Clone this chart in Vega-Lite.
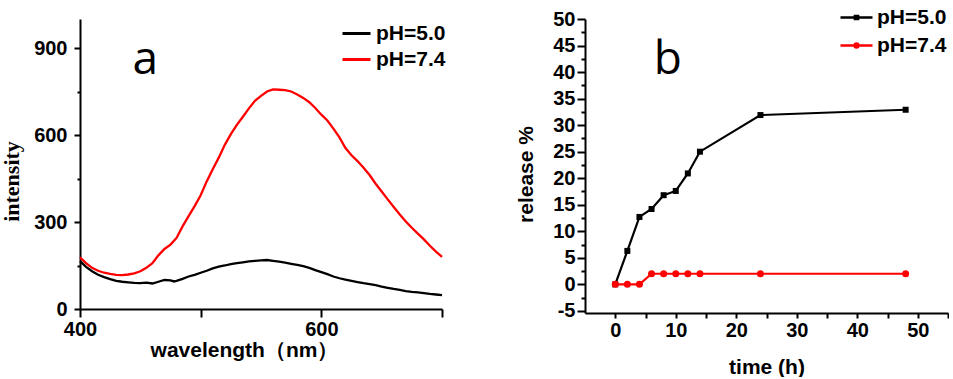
{
  "$schema": "https://vega.github.io/schema/vega-lite/v6.json",
  "background": "white",
  "padding": {"left": 0, "top": 0, "right": 0, "bottom": 0},
  "bounds": "flush",
  "spacing": 143,
  "resolve": {
    "scale": {"color": "independent"},
    "legend": {"color": "independent"}
  },
  "config": {
    "view": {"stroke": null},
    "axis": {
      "grid": false,
      "domainColor": "black",
      "domainWidth": 2,
      "tickColor": "black",
      "tickWidth": 2,
      "labelOverlap": false,
      "labelFont": "Liberation Sans",
      "labelFontWeight": "bold",
      "labelFontSize": 20,
      "labelColor": "black",
      "titleFont": "Liberation Sans",
      "titleFontWeight": "bold",
      "titleFontSize": 21,
      "titleColor": "black"
    }
  },
  "datasets": {
    "spectra": [
      {"wavelength": 400, "intensity": 178, "series": "pH=7.4"},
      {"wavelength": 405, "intensity": 158, "series": "pH=7.4"},
      {"wavelength": 410, "intensity": 142, "series": "pH=7.4"},
      {"wavelength": 415, "intensity": 132, "series": "pH=7.4"},
      {"wavelength": 420, "intensity": 125, "series": "pH=7.4"},
      {"wavelength": 425, "intensity": 121, "series": "pH=7.4"},
      {"wavelength": 430, "intensity": 118, "series": "pH=7.4"},
      {"wavelength": 435, "intensity": 117, "series": "pH=7.4"},
      {"wavelength": 440, "intensity": 119, "series": "pH=7.4"},
      {"wavelength": 445, "intensity": 123, "series": "pH=7.4"},
      {"wavelength": 450, "intensity": 130, "series": "pH=7.4"},
      {"wavelength": 455, "intensity": 142, "series": "pH=7.4"},
      {"wavelength": 460, "intensity": 158, "series": "pH=7.4"},
      {"wavelength": 465, "intensity": 185, "series": "pH=7.4"},
      {"wavelength": 470, "intensity": 207, "series": "pH=7.4"},
      {"wavelength": 475, "intensity": 222, "series": "pH=7.4"},
      {"wavelength": 480, "intensity": 245, "series": "pH=7.4"},
      {"wavelength": 485, "intensity": 285, "series": "pH=7.4"},
      {"wavelength": 490, "intensity": 320, "series": "pH=7.4"},
      {"wavelength": 495, "intensity": 355, "series": "pH=7.4"},
      {"wavelength": 500, "intensity": 392, "series": "pH=7.4"},
      {"wavelength": 505, "intensity": 440, "series": "pH=7.4"},
      {"wavelength": 510, "intensity": 482, "series": "pH=7.4"},
      {"wavelength": 515, "intensity": 522, "series": "pH=7.4"},
      {"wavelength": 520, "intensity": 566, "series": "pH=7.4"},
      {"wavelength": 525, "intensity": 603, "series": "pH=7.4"},
      {"wavelength": 530, "intensity": 635, "series": "pH=7.4"},
      {"wavelength": 535, "intensity": 663, "series": "pH=7.4"},
      {"wavelength": 540, "intensity": 692, "series": "pH=7.4"},
      {"wavelength": 545, "intensity": 718, "series": "pH=7.4"},
      {"wavelength": 550, "intensity": 735, "series": "pH=7.4"},
      {"wavelength": 555, "intensity": 750, "series": "pH=7.4"},
      {"wavelength": 560, "intensity": 757, "series": "pH=7.4"},
      {"wavelength": 565, "intensity": 756, "series": "pH=7.4"},
      {"wavelength": 570, "intensity": 755, "series": "pH=7.4"},
      {"wavelength": 575, "intensity": 750, "series": "pH=7.4"},
      {"wavelength": 580, "intensity": 740, "series": "pH=7.4"},
      {"wavelength": 585, "intensity": 728, "series": "pH=7.4"},
      {"wavelength": 590, "intensity": 713, "series": "pH=7.4"},
      {"wavelength": 595, "intensity": 693, "series": "pH=7.4"},
      {"wavelength": 600, "intensity": 670, "series": "pH=7.4"},
      {"wavelength": 605, "intensity": 650, "series": "pH=7.4"},
      {"wavelength": 610, "intensity": 622, "series": "pH=7.4"},
      {"wavelength": 615, "intensity": 592, "series": "pH=7.4"},
      {"wavelength": 620, "intensity": 555, "series": "pH=7.4"},
      {"wavelength": 625, "intensity": 530, "series": "pH=7.4"},
      {"wavelength": 630, "intensity": 510, "series": "pH=7.4"},
      {"wavelength": 635, "intensity": 487, "series": "pH=7.4"},
      {"wavelength": 640, "intensity": 462, "series": "pH=7.4"},
      {"wavelength": 645, "intensity": 432, "series": "pH=7.4"},
      {"wavelength": 650, "intensity": 405, "series": "pH=7.4"},
      {"wavelength": 655, "intensity": 378, "series": "pH=7.4"},
      {"wavelength": 660, "intensity": 352, "series": "pH=7.4"},
      {"wavelength": 665, "intensity": 326, "series": "pH=7.4"},
      {"wavelength": 670, "intensity": 302, "series": "pH=7.4"},
      {"wavelength": 675, "intensity": 280, "series": "pH=7.4"},
      {"wavelength": 680, "intensity": 260, "series": "pH=7.4"},
      {"wavelength": 685, "intensity": 240, "series": "pH=7.4"},
      {"wavelength": 690, "intensity": 218, "series": "pH=7.4"},
      {"wavelength": 695, "intensity": 198, "series": "pH=7.4"},
      {"wavelength": 700, "intensity": 180, "series": "pH=7.4"},
      {"wavelength": 400, "intensity": 165, "series": "pH=5.0"},
      {"wavelength": 405, "intensity": 145, "series": "pH=5.0"},
      {"wavelength": 410, "intensity": 130, "series": "pH=5.0"},
      {"wavelength": 415, "intensity": 118, "series": "pH=5.0"},
      {"wavelength": 420, "intensity": 110, "series": "pH=5.0"},
      {"wavelength": 425, "intensity": 103, "series": "pH=5.0"},
      {"wavelength": 430, "intensity": 97, "series": "pH=5.0"},
      {"wavelength": 435, "intensity": 94, "series": "pH=5.0"},
      {"wavelength": 440, "intensity": 92, "series": "pH=5.0"},
      {"wavelength": 445, "intensity": 90, "series": "pH=5.0"},
      {"wavelength": 450, "intensity": 89, "series": "pH=5.0"},
      {"wavelength": 455, "intensity": 91, "series": "pH=5.0"},
      {"wavelength": 460, "intensity": 88, "series": "pH=5.0"},
      {"wavelength": 465, "intensity": 94, "series": "pH=5.0"},
      {"wavelength": 470, "intensity": 100, "series": "pH=5.0"},
      {"wavelength": 475, "intensity": 99, "series": "pH=5.0"},
      {"wavelength": 478, "intensity": 95, "series": "pH=5.0"},
      {"wavelength": 480, "intensity": 97, "series": "pH=5.0"},
      {"wavelength": 485, "intensity": 104, "series": "pH=5.0"},
      {"wavelength": 490, "intensity": 112, "series": "pH=5.0"},
      {"wavelength": 495, "intensity": 118, "series": "pH=5.0"},
      {"wavelength": 500, "intensity": 125, "series": "pH=5.0"},
      {"wavelength": 505, "intensity": 132, "series": "pH=5.0"},
      {"wavelength": 510, "intensity": 140, "series": "pH=5.0"},
      {"wavelength": 515, "intensity": 146, "series": "pH=5.0"},
      {"wavelength": 520, "intensity": 150, "series": "pH=5.0"},
      {"wavelength": 525, "intensity": 155, "series": "pH=5.0"},
      {"wavelength": 530, "intensity": 158, "series": "pH=5.0"},
      {"wavelength": 535, "intensity": 161, "series": "pH=5.0"},
      {"wavelength": 540, "intensity": 164, "series": "pH=5.0"},
      {"wavelength": 545, "intensity": 166, "series": "pH=5.0"},
      {"wavelength": 550, "intensity": 168, "series": "pH=5.0"},
      {"wavelength": 555, "intensity": 169, "series": "pH=5.0"},
      {"wavelength": 560, "intensity": 166, "series": "pH=5.0"},
      {"wavelength": 565, "intensity": 163, "series": "pH=5.0"},
      {"wavelength": 570, "intensity": 160, "series": "pH=5.0"},
      {"wavelength": 575, "intensity": 156, "series": "pH=5.0"},
      {"wavelength": 580, "intensity": 152, "series": "pH=5.0"},
      {"wavelength": 585, "intensity": 148, "series": "pH=5.0"},
      {"wavelength": 590, "intensity": 142, "series": "pH=5.0"},
      {"wavelength": 595, "intensity": 134, "series": "pH=5.0"},
      {"wavelength": 600, "intensity": 127, "series": "pH=5.0"},
      {"wavelength": 605, "intensity": 120, "series": "pH=5.0"},
      {"wavelength": 610, "intensity": 112, "series": "pH=5.0"},
      {"wavelength": 615, "intensity": 106, "series": "pH=5.0"},
      {"wavelength": 620, "intensity": 101, "series": "pH=5.0"},
      {"wavelength": 625, "intensity": 97, "series": "pH=5.0"},
      {"wavelength": 630, "intensity": 93, "series": "pH=5.0"},
      {"wavelength": 635, "intensity": 89, "series": "pH=5.0"},
      {"wavelength": 640, "intensity": 86, "series": "pH=5.0"},
      {"wavelength": 645, "intensity": 82, "series": "pH=5.0"},
      {"wavelength": 650, "intensity": 77, "series": "pH=5.0"},
      {"wavelength": 655, "intensity": 73, "series": "pH=5.0"},
      {"wavelength": 660, "intensity": 69, "series": "pH=5.0"},
      {"wavelength": 665, "intensity": 66, "series": "pH=5.0"},
      {"wavelength": 670, "intensity": 62, "series": "pH=5.0"},
      {"wavelength": 675, "intensity": 59, "series": "pH=5.0"},
      {"wavelength": 680, "intensity": 57, "series": "pH=5.0"},
      {"wavelength": 685, "intensity": 55, "series": "pH=5.0"},
      {"wavelength": 690, "intensity": 52, "series": "pH=5.0"},
      {"wavelength": 695, "intensity": 50, "series": "pH=5.0"},
      {"wavelength": 700, "intensity": 48, "series": "pH=5.0"}
    ],
    "release": [
      {"time": 0, "release": 0, "series": "pH=5.0"},
      {"time": 2, "release": 6.3, "series": "pH=5.0"},
      {"time": 4, "release": 12.7, "series": "pH=5.0"},
      {"time": 6, "release": 14.2, "series": "pH=5.0"},
      {"time": 8, "release": 16.8, "series": "pH=5.0"},
      {"time": 10, "release": 17.6, "series": "pH=5.0"},
      {"time": 12, "release": 20.9, "series": "pH=5.0"},
      {"time": 14, "release": 25, "series": "pH=5.0"},
      {"time": 24, "release": 31.9, "series": "pH=5.0"},
      {"time": 48, "release": 32.9, "series": "pH=5.0"},
      {"time": 0, "release": 0, "series": "pH=7.4"},
      {"time": 2, "release": 0, "series": "pH=7.4"},
      {"time": 4, "release": 0, "series": "pH=7.4"},
      {"time": 6, "release": 2, "series": "pH=7.4"},
      {"time": 8, "release": 2, "series": "pH=7.4"},
      {"time": 10, "release": 2, "series": "pH=7.4"},
      {"time": 12, "release": 2, "series": "pH=7.4"},
      {"time": 14, "release": 2, "series": "pH=7.4"},
      {"time": 24, "release": 2, "series": "pH=7.4"},
      {"time": 48, "release": 2, "series": "pH=7.4"}
    ]
  },
  "hconcat": [
    {
      "width": 362,
      "height": 290,
      "resolve": {"axis": {"x": "independent", "y": "independent"}},
      "layer": [
        {
          "data": {"name": "spectra"},
          "mark": {"type": "line", "strokeWidth": 2.3},
          "encoding": {
            "x": {
              "field": "wavelength", "type": "quantitative",
              "scale": {"domain": [400, 700], "nice": false, "zero": false},
              "axis": {
                "title": "wavelength（nm）",
                "orient": "bottom",
                "values": [400, 600],
                "labelFlush": false,
                "tickSize": 8,
                "labelPadding": 2,
                "titlePadding": 0,
                "titleX": 164
              }
            },
            "y": {
              "field": "intensity", "type": "quantitative",
              "scale": {"domain": [0, 1000], "nice": false},
              "axis": {
                "title": "intensity",
                "orient": "left",
                "titleFont": "Liberation Serif",
                "titleFontSize": 22,
                "values": [0, 300, 600, 900],
                "tickSize": 6,
                "labelPadding": 7,
                "titlePadding": 10,
                "titleY": 162
              }
            },
            "color": {
              "field": "series", "type": "nominal",
              "scale": {"domain": ["pH=5.0", "pH=7.4"], "range": ["black", "#ff0000"]},
              "legend": {
                "orient": "none", "legendX": 261, "legendY": -1,
                "title": null,
                "symbolType": "M-1,0H1",
                "symbolSize": 784,
                "symbolStrokeWidth": 3,
                "labelFont": "Liberation Sans", "labelFontWeight": "bold", "labelFontSize": 21, "labelColor": "black",
                "labelOffset": 4, "rowPadding": 0, "padding": 0
              }
            }
          }
        },
        {
          "data": {"values": [{}]},
          "mark": {"type": "text", "text": "a", "font": "Open Sans", "fontSize": 46, "align": "center", "baseline": "alphabetic", "color": "black"},
          "encoding": {
            "x": {"datum": 454, "type": "quantitative",
              "axis": {"orient": "bottom", "values": [500, 700], "labels": false, "domain": false, "title": null, "tickSize": 8}},
            "y": {"datum": 811, "type": "quantitative",
              "axis": {"orient": "left", "values": [150, 450, 750], "labels": false, "domain": false, "title": null, "tickSize": 3}}
          }
        }
      ]
    },
    {
      "width": 363,
      "height": 294,
      "resolve": {"axis": {"x": "independent", "y": "independent"}},
      "layer": [
        {
          "data": {"name": "release"},
          "mark": {"type": "line", "strokeWidth": 2.2},
          "encoding": {
            "x": {
              "field": "time", "type": "quantitative",
              "scale": {"domain": [-5, 55], "nice": false, "zero": false},
              "axis": {
                "title": "time (h)",
                "orient": "bottom",
                "values": [0, 10, 20, 30, 40, 50],
                "tickSize": 5,
                "labelPadding": 2,
                "titlePadding": 16
              }
            },
            "y": {
              "field": "release", "type": "quantitative",
              "scale": {"domain": [-5.4, 50], "nice": false, "zero": false},
              "axis": {
                "title": "release %",
                "orient": "left",
                "values": [-5, 0, 5, 10, 15, 20, 25, 30, 35, 40, 45, 50],
                "labelExpr": "toString(datum.value)",
                "tickSize": 8,
                "labelPadding": 2,
                "titlePadding": 16,
                "titleY": 155
              }
            },
            "color": {
              "field": "series", "type": "nominal",
              "scale": {"domain": ["pH=5.0", "pH=7.4"], "range": ["black", "#ff0000"]},
              "legend": {
                "orient": "none", "legendX": 254, "legendY": -19,
                "title": null,
                "symbolType": "M-1,0H1",
                "symbolSize": 1024,
                "symbolStrokeWidth": 2.5,
                "labelFont": "Liberation Sans", "labelFontWeight": "bold", "labelFontSize": 21, "labelColor": "black",
                "labelOffset": 3, "rowPadding": -4, "padding": 0,
                "encode": {
                  "symbols": {
                    "update": {
                      "shape": {"signal": "datum.value == 'pH=5.0' ? 'M-1,0H1M-0.1,-0.1H0.1V0.1H-0.1Z' : 'M-1,0H1M0.12,0A0.12,0.12 0 1,1 -0.12,0A0.12,0.12 0 1,1 0.12,0Z'"},
                      "fill": {"signal": "datum.value == 'pH=5.0' ? 'black' : '#ff0000'"},
                      "stroke": {"signal": "datum.value == 'pH=5.0' ? 'black' : '#ff0000'"},
                      "strokeWidth": {"value": 2.5}
                    }
                  }
                }
              }
            }
          }
        },
        {
          "data": {"name": "release"},
          "transform": [{"filter": "datum.series == 'pH=5.0'"}],
          "mark": {"type": "point", "shape": "square", "filled": true, "opacity": 1, "size": 36, "color": "black"},
          "encoding": {
            "x": {"field": "time", "type": "quantitative", "axis": null},
            "y": {"field": "release", "type": "quantitative", "axis": null}
          }
        },
        {
          "data": {"name": "release"},
          "transform": [{"filter": "datum.series == 'pH=7.4'"}],
          "mark": {"type": "point", "shape": "circle", "filled": true, "opacity": 1, "size": 49, "color": "#ff0000"},
          "encoding": {
            "x": {"field": "time", "type": "quantitative", "axis": null},
            "y": {"field": "release", "type": "quantitative", "axis": null}
          }
        },
        {
          "data": {"values": [{}]},
          "mark": {"type": "text", "text": "b", "font": "Open Sans", "fontSize": 46, "align": "center", "baseline": "alphabetic", "color": "black"},
          "encoding": {
            "x": {"datum": 8.7, "type": "quantitative",
              "axis": {"orient": "bottom", "values": [5, 15, 25, 35, 45, 55], "labels": false, "domain": false, "title": null, "tickSize": 5}},
            "y": {"datum": 39.7, "type": "quantitative",
              "axis": {"orient": "left", "values": [-2.5, 2.5, 7.5, 12.5, 17.5, 22.5, 27.5, 32.5, 37.5, 42.5, 47.5], "labels": false, "domain": false, "title": null, "tickSize": 4}}
          }
        }
      ]
    }
  ]
}
